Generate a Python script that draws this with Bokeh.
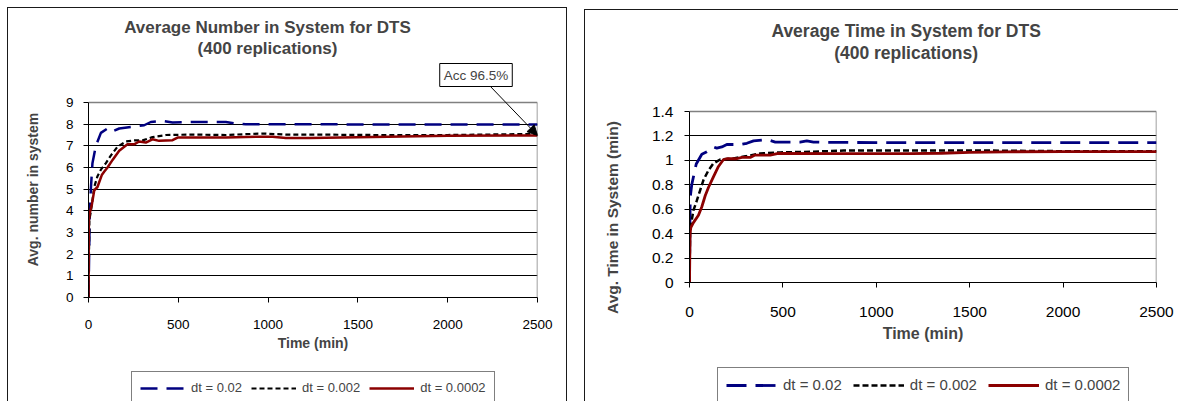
import math
from bokeh.plotting import figure
from bokeh.layouts import row, column
from bokeh.models import (Range1d, FixedTicker, Label, Arrow, NormalHead, Legend,
                          LegendItem, CustomJSTickFormatter, Spacer)
from bokeh.core.properties import value
from bokeh.embed import file_html
from bokeh.resources import INLINE

FONT = "Liberation Sans"

# ---------------- data: Average Number in System ----------------
num_t_a = [0, 7, 13, 22, 41, 69, 115, 143, 171, 264, 310, 347, 412, 468, 579, 765, 820, 876, 1229, 1600, 2000, 2500]
num_v_a = [0, 3.9, 5.0, 6.2, 7.0, 7.6, 7.85, 7.7, 7.8, 7.9, 7.95, 8.1, 8.15, 8.08, 8.1, 8.1, 8.03, 8.0, 8.0, 7.98, 7.98, 7.98]

num_t_b = [0, 5, 13, 32, 50, 69, 97, 124, 161, 208, 254, 301, 356, 431, 579, 765, 969, 1100, 1229, 1600, 2000, 2500]
num_v_b = [0, 3.6, 3.95, 5.1, 5.6, 5.9, 6.2, 6.55, 6.95, 7.2, 7.25, 7.25, 7.4, 7.5, 7.52, 7.5, 7.57, 7.52, 7.52, 7.5, 7.5, 7.55]

num_t_c = [0, 2, 7, 19, 32, 50, 63, 74, 87, 106, 134, 171, 217, 254, 282, 319, 356, 393, 468, 496, 579, 765, 950, 1024, 1099, 1229, 1500, 2000, 2500]
num_v_c = [0, 3.55, 3.9, 4.3, 4.95, 5.1, 5.4, 5.65, 5.8, 6.0, 6.35, 6.77, 7.07, 7.07, 7.2, 7.15, 7.3, 7.23, 7.26, 7.38, 7.38, 7.38, 7.42, 7.42, 7.36, 7.36, 7.4, 7.46, 7.48]

# ---------------- data: Average Time in System ----------------
tim_t_a = [0, 2, 4, 12, 36, 66, 93, 128, 146, 173, 200, 271, 307, 343, 414, 459, 521, 592, 628, 664, 735, 1200, 2000, 2500]
tim_v_a = [0, 0.45, 0.7, 0.8, 0.97, 1.05, 1.07, 1.11, 1.10, 1.11, 1.13, 1.13, 1.14, 1.16, 1.17, 1.15, 1.15, 1.15, 1.16, 1.15, 1.147, 1.145, 1.145, 1.145]

tim_t_b = [0, 3, 12, 21, 39, 57, 75, 102, 128, 164, 235, 307, 378, 485, 646, 824, 1181, 1600, 2000, 2500]
tim_v_b = [0, 0.42, 0.51, 0.59, 0.67, 0.755, 0.84, 0.92, 0.975, 1.007, 1.016, 1.035, 1.057, 1.065, 1.07, 1.08, 1.08, 1.08, 1.075, 1.075]

tim_t_c = [0, 3, 7, 21, 48, 66, 84, 102, 128, 155, 182, 200, 253, 280, 325, 351, 432, 476, 800, 1181, 1350, 1500, 1700, 2000, 2500]
tim_v_c = [0, 0.4, 0.45, 0.49, 0.55, 0.62, 0.71, 0.78, 0.865, 0.95, 1.007, 1.013, 1.013, 1.024, 1.024, 1.043, 1.043, 1.057, 1.055, 1.055, 1.058, 1.065, 1.07, 1.072, 1.072]

series_labels = ["dt = 0.02", "dt = 0.002", "dt = 0.0002"]
x_ticks = [0, 500, 1000, 1500, 2000, 2500]
num_ticks = [0, 1, 2, 3, 4, 5, 6, 7, 8, 9]
tim_ticks = [0, 0.2, 0.4, 0.6, 0.8, 1.0, 1.2, 1.4]
X_MAX = 2500
NUM_MAX = 9
TIM_MAX = 1.4

BLUE = "#000080"
BLACK = "#000000"
RED = "#8B0000"
EDGE = "#1a1a1a"
GREY = "#808080"


def setup(p, yticks, grid_ticks, ymax, tick_size, standoff_x, standoff_y, xlabel, xlabel_size, label_standoff):
    p.background_fill_color = None
    p.border_fill_color = None
    p.outline_line_color = None
    p.xgrid.grid_line_color = None
    p.ygrid.ticker = FixedTicker(ticks=grid_ticks)
    p.ygrid.grid_line_color = "black"
    p.ygrid.grid_line_width = 1
    p.xaxis.ticker = FixedTicker(ticks=x_ticks)
    p.yaxis.ticker = FixedTicker(ticks=yticks)
    p.yaxis.bounds = (0, ymax)
    p.yaxis.formatter = CustomJSTickFormatter(code="return String(Math.round(tick*10)/10);")
    for ax in (p.xaxis[0], p.yaxis[0]):
        ax.axis_line_color = "black"
        ax.major_tick_line_color = "black"
        ax.minor_tick_line_color = None
        ax.major_tick_in = 0
        ax.major_tick_out = 5
        ax.major_label_text_font = FONT
        ax.major_label_text_font_size = tick_size
        ax.major_label_text_color = "black"
    p.xaxis.major_label_standoff = standoff_x
    p.yaxis.major_label_standoff = standoff_y
    p.xaxis.axis_label = xlabel
    p.xaxis.axis_label_text_font = FONT
    p.xaxis.axis_label_text_font_style = "bold"
    p.xaxis.axis_label_text_font_size = xlabel_size
    p.xaxis.axis_label_standoff = label_standoff
    # grey plot-area border: top edge and right edge
    p.segment(x0=[0, X_MAX], y0=[ymax, 0], x1=[X_MAX, X_MAX], y1=[ymax, ymax],
              line_color=GREY, line_width=1.5)


def legend_strip(width, height, shadow, series, styles, loc, glyph_w, glyph_h, font_size, spacing, border_w):
    """A frame-only strip below a chart that carries the chart's legend.
    Its frame is aligned with the chart frame above it by the column layout; the
    series are drawn again out of view (y range below 0) only to feed the legend."""
    q = figure(width=width, height=height, x_range=Range1d(0, X_MAX), y_range=Range1d(-2, -1),
               x_axis_location=None, y_axis_location=None, min_border=0,
               output_backend="svg", toolbar_location=None, styles={"box-shadow": shadow})
    q.background_fill_color = None
    q.border_fill_color = None
    q.outline_line_color = None
    q.grid.grid_line_color = None
    rs = [q.line(t, v, **st) for (t, v), st in zip(series, styles)]
    leg = Legend(items=[LegendItem(label=value(lab), renderers=[r]) for lab, r in zip(series_labels, rs)],
                 orientation="horizontal", location=loc,
                 border_line_color="black", border_line_width=border_w, background_fill_color="white",
                 background_fill_alpha=1, glyph_width=glyph_w, glyph_height=glyph_h, label_height=glyph_h,
                 label_text_font=FONT, label_text_font_size=font_size, padding=8, spacing=spacing,
                 label_standoff=6, margin=0)
    q.add_layout(leg)
    return q


# ================= LEFT =================
# page-pixel geometry (the page has no margin; the panel starts at (LCX, LCY))
LCX, LCY = 7, 7
LW = 560
LX0, LX1, LY0, LY1 = 88, 537, 102, 297
L_SPLIT, L_BOTTOM = 366, 401   # chart canvas ends at L_SPLIT, legend strip below it


def lx(px):
    return (px - LX0) / (LX1 - LX0) * X_MAX


def ly(py):
    return (LY1 - py) / (LY1 - LY0) * NUM_MAX


p1 = figure(width=LW, height=L_SPLIT - LCY, frame_width=LX1 - LX0, frame_height=LY1 - LCY,
            min_border_left=LX0 - LCX, min_border_right=LW - (LX0 - LCX) - (LX1 - LX0),
            min_border_top=0, min_border_bottom=L_SPLIT - LY1,
            x_range=Range1d(0, X_MAX), y_range=Range1d(0, ly(LCY)),
            output_backend="svg", toolbar_location=None,
            styles={"box-shadow": "inset 1px 1px 0 0 %s, inset -1px 0 0 0 %s" % (EDGE, EDGE)})
setup(p1, num_ticks, [1, 2, 3, 4, 5, 6, 7, 8], NUM_MAX, "13.5px", 17, 10, "Time (min)", "14px", 3)

L_STYLES = [dict(line_color=BLUE, line_dash="17 9", line_width=2.5),
            dict(line_color=BLACK, line_dash="5 3", line_width=2.2),
            dict(line_color=RED, line_width=2.5)]
L_SERIES = [(num_t_a, num_v_a), (num_t_b, num_v_b), (num_t_c, num_v_c)]
for (t, v), st in zip(L_SERIES, L_STYLES):
    p1.line(t, v, **st)

for txt, py in [("Average Number in System for DTS", 27), ("(400 replications)", 48)]:
    p1.add_layout(Label(x=lx(267), y=ly(py), text=txt, text_align="center", text_baseline="middle",
                        text_font=FONT, text_font_size="17px", text_font_style="bold"))
p1.add_layout(Label(x=lx(32), y=ly(189), text="Avg. number in system", angle=math.pi / 2,
                    text_align="center", text_baseline="middle",
                    text_font=FONT, text_font_size="14px", text_font_style="bold"), "left")

p1.add_layout(Arrow(end=NormalHead(size=10, fill_color="black", line_color="black"),
                    x_start=lx(489), y_start=ly(85), x_end=num_t_c[-1], y_end=num_v_c[-1],
                    line_color="black", line_width=1))
p1.add_layout(Label(x=lx(475.5), y=ly(74.5), text="Acc 96.5%", text_align="center", text_baseline="middle",
                    text_font=FONT, text_font_size="13.5px", border_line_color="black",
                    background_fill_color="white", padding=4))

pl = legend_strip(LW, L_BOTTOM - L_SPLIT, "inset 1px 0 0 0 %s, inset -1px 0 0 0 %s" % (EDGE, EDGE),
                  L_SERIES, L_STYLES, (131 - LX0, L_BOTTOM - 404), 45, 14, "13px", 9, 1)

# ================= RIGHT =================
RCX, RCY = 584, 9
RW = 594
RX0, RX1, RY0, RY1 = 689, 1156, 111, 282
R_SPLIT, R_BOTTOM = 360, 401


def rx(px):
    return (px - RX0) / (RX1 - RX0) * X_MAX


def ry(py):
    return (RY1 - py) / (RY1 - RY0) * TIM_MAX


p2 = figure(width=RW, height=R_SPLIT - RCY, frame_width=RX1 - RX0, frame_height=RY1 - RCY,
            min_border_left=RX0 - RCX, min_border_right=RW - (RX0 - RCX) - (RX1 - RX0),
            min_border_top=0, min_border_bottom=R_SPLIT - RY1,
            x_range=Range1d(0, X_MAX), y_range=Range1d(0, ry(RCY)),
            output_backend="svg", toolbar_location=None,
            styles={"box-shadow": "inset 1px 1px 0 0 %s" % EDGE})
setup(p2, tim_ticks, [0.2, 0.4, 0.6, 0.8, 1.0, 1.2], TIM_MAX, "15.5px", 19, 11, "Time (min)", "16px", 5)

R_STYLES = [dict(line_color=BLUE, line_dash="20 9", line_width=2.8),
            dict(line_color=BLACK, line_dash="6 3", line_width=2.5),
            dict(line_color=RED, line_width=2.8)]
R_SERIES = [(tim_t_a, tim_v_a), (tim_t_b, tim_v_b), (tim_t_c, tim_v_c)]
for (t, v), st in zip(R_SERIES, R_STYLES):
    p2.line(t, v, **st)

for txt, py in [("Average Time in System for DTS", 30.7), ("(400 replications)", 52.3)]:
    p2.add_layout(Label(x=rx(905.6), y=ry(py), text=txt, text_align="center", text_baseline="middle",
                        text_font=FONT, text_font_size="17.5px", text_font_style="bold"))
p2.add_layout(Label(x=rx(612), y=ry(217), text="Avg. Time in System (min)", angle=math.pi / 2,
                    text_align="center", text_baseline="middle",
                    text_font=FONT, text_font_size="15.5px", text_font_style="bold"), "left")

pr = legend_strip(RW, R_BOTTOM - R_SPLIT, "inset 1px 0 0 0 %s" % EDGE,
                  R_SERIES, R_STYLES, (717 - RX0, R_BOTTOM - 402), 51, 16, "15px", 11, 1.3)

layout = row(Spacer(width=LCX, height=1),
             column(Spacer(width=1, height=LCY), p1, pl),
             Spacer(width=RCX - LCX - LW, height=1),
             column(Spacer(width=1, height=RCY), p2, pr))
open("out.html", "w").write(file_html(layout, INLINE))
